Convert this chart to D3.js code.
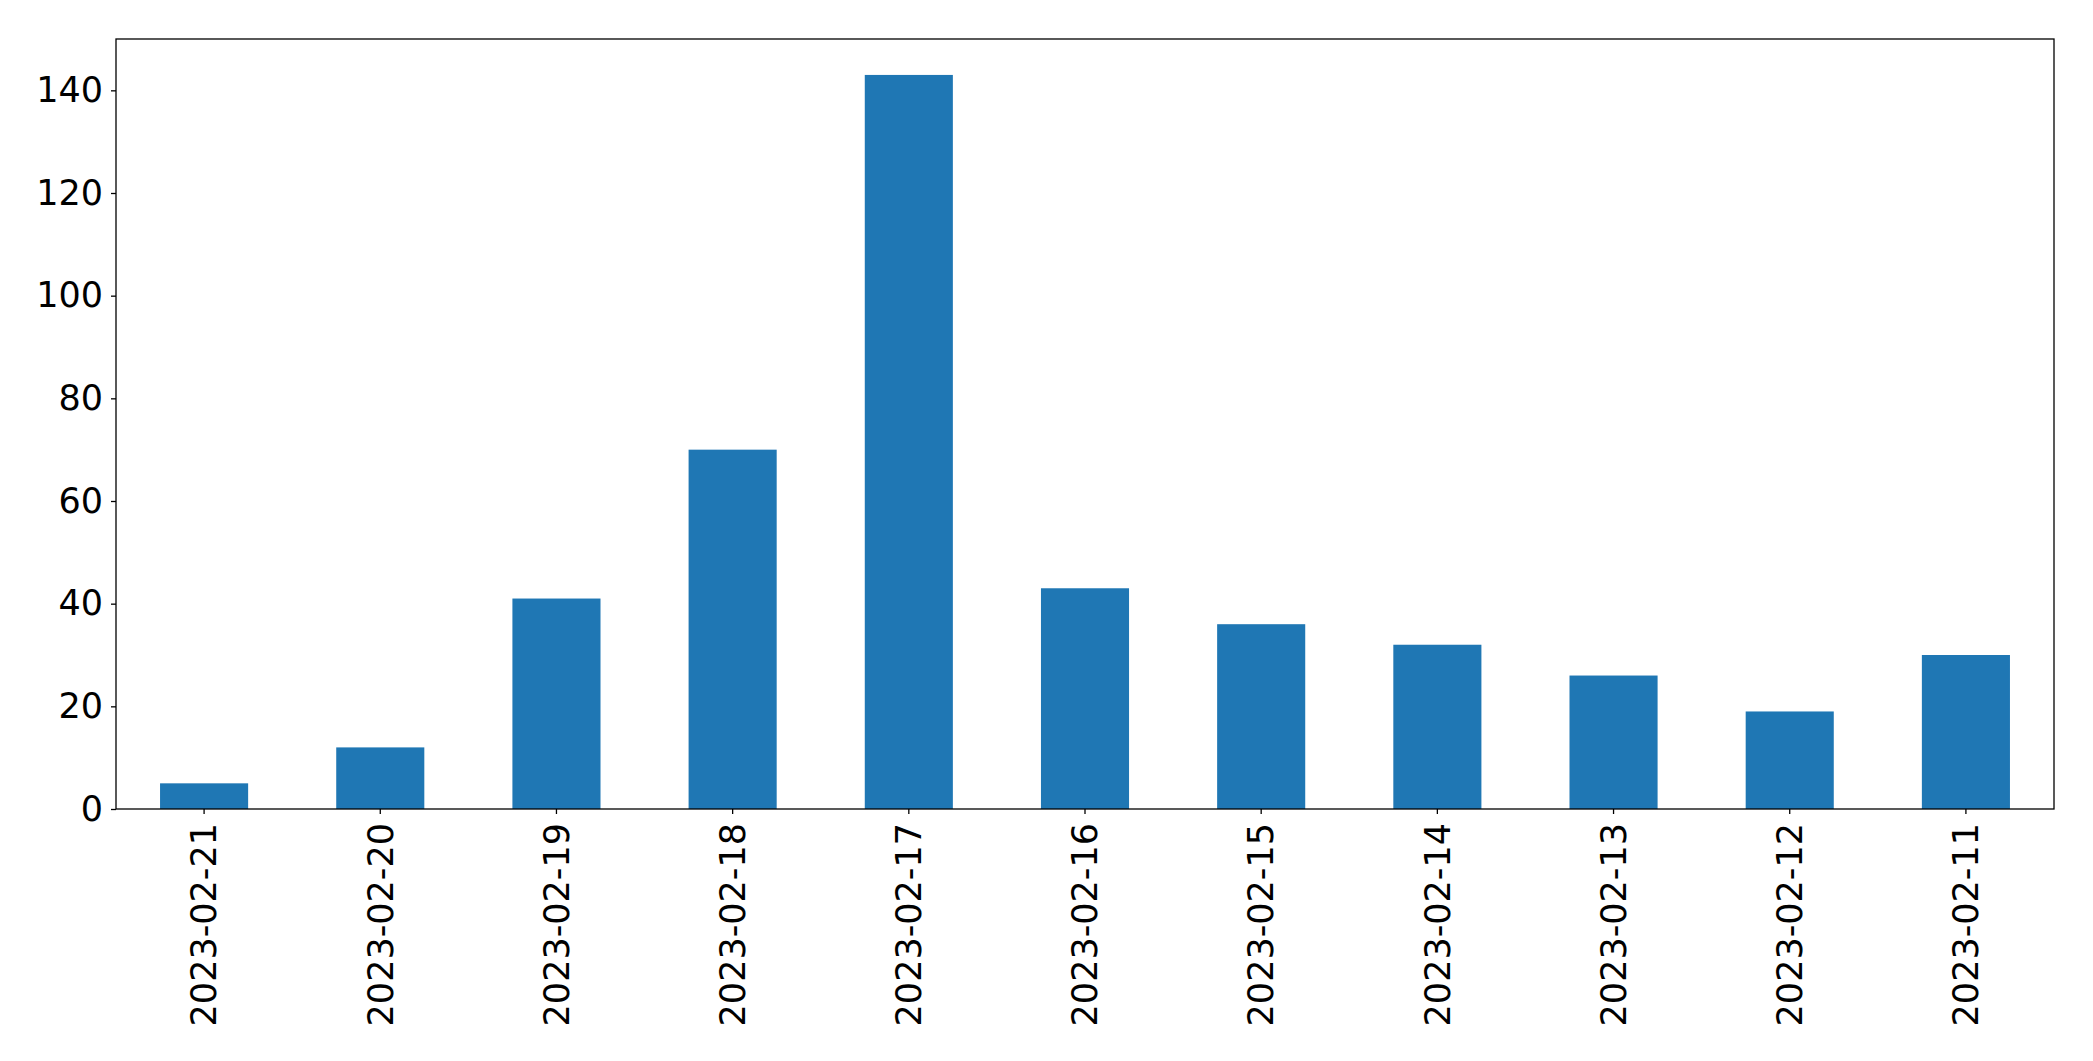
<!DOCTYPE html>
<html><head><meta charset="utf-8">
<script src="https://cdn.jsdelivr.net/npm/d3@7"></script>
<style>html,body{margin:0;padding:0;background:#fff;}svg{display:block;}</style>
</head><body>
<script>
const categories = ["2023-02-21","2023-02-20","2023-02-19","2023-02-18","2023-02-17","2023-02-16","2023-02-15","2023-02-14","2023-02-13","2023-02-12","2023-02-11"];
const values = [5, 12, 41, 70, 143, 43, 36, 32, 26, 19, 30];
const yTicks = [0, 20, 40, 60, 80, 100, 120, 140];

const W = 2093, H = 1061;
const m = {left: 116, top: 39, right: W - 2054, bottom: H - 809};
const svg = d3.select("body").append("svg").attr("width", W).attr("height", H)
  .style("font-family", "DejaVu Sans, sans-serif");

const x = d3.scaleBand().domain(categories).range([m.left, W - m.right]).paddingInner(0.5).paddingOuter(0.25);
const y = d3.scaleLinear().domain([0, 150]).range([H - m.bottom, m.top]);

svg.append("g").selectAll("rect").data(values).join("rect")
  .attr("x", (d, i) => x(categories[i]))
  .attr("width", x.bandwidth())
  .attr("y", d => y(d))
  .attr("height", d => y(0) - y(d))
  .attr("fill", "#1f77b4");

const fs = 35;
const yAxis = svg.append("g").attr("transform", `translate(${m.left},0)`)
  .call(d3.axisLeft(y).tickValues(yTicks).tickSize(5).tickPadding(8).tickFormat(d3.format("d")));
yAxis.select(".domain").remove();
yAxis.selectAll("text").attr("font-size", fs).attr("fill", "#000").style("font-family", "DejaVu Sans");
yAxis.selectAll("line").attr("stroke", "#000").attr("stroke-width", 1.3);

const xAxis = svg.append("g").attr("transform", `translate(0,${H - m.bottom})`)
  .call(d3.axisBottom(x).tickSize(5).tickPadding(0));
xAxis.select(".domain").remove();
xAxis.selectAll("line").attr("stroke", "#000").attr("stroke-width", 1.3);
xAxis.selectAll("text")
  .attr("font-size", fs).attr("fill", "#000").style("font-family", "DejaVu Sans")
  .attr("text-anchor", "end")
  .attr("transform", "rotate(-90)")
  .attr("x", -14).attr("y", 0).attr("dy", "0.35em");

svg.append("rect").attr("x", m.left).attr("y", m.top)
  .attr("width", W - m.left - m.right).attr("height", H - m.top - m.bottom)
  .attr("fill", "none").attr("stroke", "#000").attr("stroke-width", 1.3);
</script>
</body></html>
